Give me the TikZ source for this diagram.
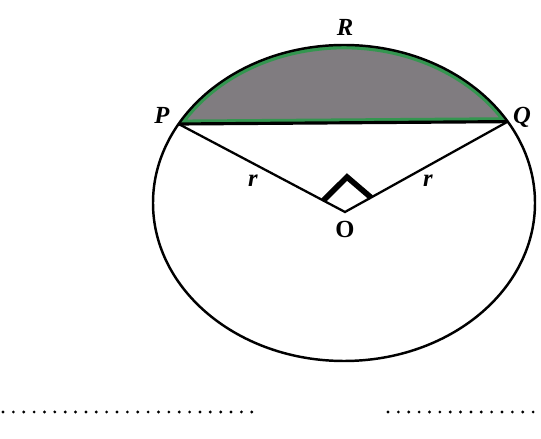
\documentclass[tikz,border=0pt]{standalone}
\usepackage{fontspec}
\setmainfont{Liberation Serif}
\usepackage{xcolor}
\usetikzlibrary{calc}
\definecolor{verde}{RGB}{52,150,80}
\definecolor{gris}{RGB}{128,124,128}

\begin{document}
\begin{tikzpicture}[
    x=0.02cm, y=0.02cm,
    font=\fontsize{14}{16}\selectfont,
    contorno/.style={line width=1.4pt},
    cuerda/.style={line width=1.8pt},
    radio/.style={line width=1.3pt},
    etiqueta/.style={font=\fontsize{14}{16}\selectfont\bfseries\itshape, inner sep=0pt},
    centro/.style={font=\fontsize{14}{16}\selectfont\bfseries, inner sep=0pt},
    marca/.style={line width=3.2pt, line join=miter},
    puntos/.style={line width=1.8pt, line cap=round, dash pattern=on 0pt off 5.9pt}
  ]
    \useasboundingbox (0,0) rectangle (541,439);
    \coordinate (C) at (344,236);
    \coordinate (O) at (345,227);
    \coordinate (P) at ($(C)+(150:191 and 158)$);
    \coordinate (Q) at ($(C)+(31:191 and 158)$);
    % segmento sombreado
    \fill[gris] (P) arc[start angle=150, end angle=31, x radius=191, y radius=158] -- cycle;
    \begin{scope}
      \clip (P) arc[start angle=150, end angle=31, x radius=191, y radius=158] -- cycle;
      \draw[verde, line width=5pt] (P) arc[start angle=150, end angle=31, x radius=191, y radius=158] -- cycle;
    \end{scope}
    \draw[contorno] (C) ellipse[x radius=191, y radius=158];
    \draw[cuerda] (P) -- (Q);
    \draw[radio] (P) -- (O) -- (Q);
    % angulo recto
    \coordinate (m1) at ($(O)!0.13!(P)$);
    \coordinate (m2) at ($(O)!0.16!(Q)$);
    \coordinate (m3) at (347,262);
    \draw[marca] (m1) -- (m3) -- (m2);
    \node[etiqueta] (lR) at (345,412) {R};
    \node[etiqueta] (lP) at (162,324) {P};
    \node[etiqueta] (lQ) at (522,322) {Q};
    \node[etiqueta] (r1) at (253,258) {r};
    \node[etiqueta] (r2) at (428,258) {r};
    \node[centro] (lO) at (345,210) {O};
    % lineas de puntos
    \coordinate (a1) at (3,27);
    \coordinate (a2) at (256,27);
    \coordinate (b1) at (388,27);
    \coordinate (b2) at (541,27);
    \draw[puntos] (a1) -- (a2);
    \draw[puntos] (b1) -- (b2);
  \end{tikzpicture}
\end{document}
